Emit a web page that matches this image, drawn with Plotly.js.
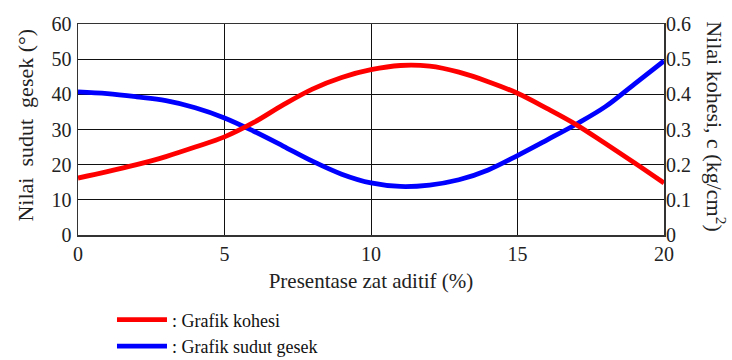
<!DOCTYPE html>
<html>
<head>
<meta charset="utf-8">
<script src="https://cdn.plot.ly/plotly-3.0.1.min.js"></script>
<style>html,body{margin:0;padding:0;background:#fff;}#chart{width:732px;height:360px;}</style>
</head>
<body>
<div id="chart"></div>
<script>
// Presentase zat aditif (%)
const aditif = [0,1,2,3,4,5,6,7,8,9,10,11,12,13,14,15,16,17,18,19,20];
// Nilai kohesi, c (kg/cm2)
const kohesi = [0.162,0.180,0.200,0.223,0.250,0.279,0.320,0.370,0.415,0.448,0.470,0.482,0.480,0.463,0.436,0.403,0.360,0.314,0.260,0.205,0.148];
// Nilai sudut gesek (deg)
const sudutGesek = [40.7,40.2,39.3,38.2,36.2,33.3,29.5,25.3,21.0,17.3,14.8,13.8,14.2,15.7,18.5,22.6,27.0,31.5,36.5,43.0,49.5];

const seriesNames = [': Grafik kohesi', ': Grafik sudut gesek'];
const xTicks = [0,5,10,15,20];
const yTicks = [0,10,20,30,40,50,60];
const y2Ticks = [0,0.1,0.2,0.3,0.4,0.5,0.6];
const y2TickText = ['0','0.1','0.2','0.3','0.4','0.5','0.6'];

const fam = 'Liberation Serif';
function mk(size, color) { return {family: fam, size: size, color: color || '#222'}; }

const traces = [
  {x: aditif, y: kohesi, yaxis: 'y2', name: seriesNames[0], mode: 'lines',
   line: {color: '#ff0000', width: 4.8, shape: 'spline'}},
  {x: aditif, y: sudutGesek, yaxis: 'y', name: seriesNames[1], mode: 'lines',
   line: {color: '#0000ff', width: 4.8, shape: 'spline'}}
];

const layout = {
  width: 732, height: 360,
  margin: {l: 78, r: 68, t: 24, b: 125, autoexpand: false},
  paper_bgcolor: '#fff', plot_bgcolor: '#fff',
  font: mk(20),
  showlegend: true,
  legend: {x: 0.058, y: -0.315, xanchor: 'left', yanchor: 'top', orientation: 'v',
           font: mk(18, '#111'), bgcolor: 'rgba(0,0,0,0)',
           itemwidth: 50, tracegroupgap: 0},
  xaxis: {range: [0, 20], tickvals: xTicks, showgrid: true, gridcolor: '#111', gridwidth: 1,
          showline: true, linecolor: '#333', linewidth: 1.5, mirror: true, zeroline: false,
          ticks: '', tickfont: mk(20), fixedrange: true,
          title: {text: 'Presentase zat aditif (%)', font: mk(21), standoff: 10}},
  yaxis: {range: [0, 60], tickvals: yTicks, showgrid: true, gridcolor: '#111', gridwidth: 1,
          showline: true, linecolor: '#333', linewidth: 1.5, mirror: true, zeroline: false,
          ticks: '', tickfont: mk(20), ticklabelstandoff: 1},
  yaxis2: {range: [0, 0.6], tickvals: y2Ticks, ticktext: y2TickText, overlaying: 'y', side: 'right',
           showgrid: false, showline: false, zeroline: false, ticks: '', tickfont: mk(20), ticklabelstandoff: 1},
  annotations: [
    {text: 'Nilai  sudut  gesek (°)', xref: 'paper', yref: 'paper', x: -0.09, y: 0.52,
     xanchor: 'center', yanchor: 'middle', textangle: -90, showarrow: false, font: mk(22)},
    {text: 'Nilai kohesi, c (kg/cm<sup>2</sup>)', xref: 'paper', yref: 'paper', x: 1.089, y: 0.515,
     xanchor: 'center', yanchor: 'middle', textangle: 90, showarrow: false, font: mk(22)}
  ]
};

Plotly.newPlot('chart', traces, layout, {staticPlot: true, displayModeBar: false});
</script>
</body>
</html>
